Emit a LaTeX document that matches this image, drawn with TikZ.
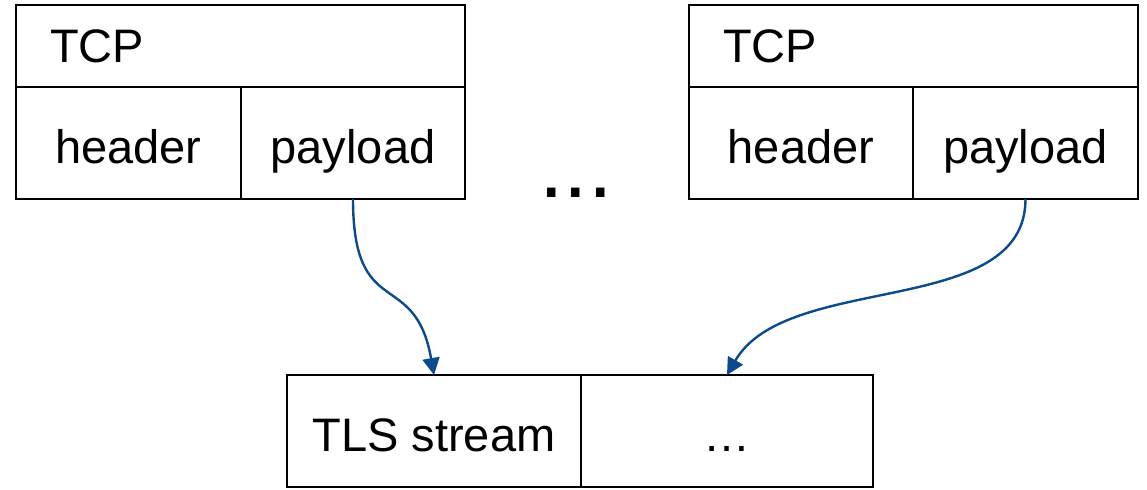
\documentclass[tikz,border=0pt]{standalone}
\usepackage{fontspec}
\setmainfont{Liberation Sans}
\usetikzlibrary{positioning, arrows.meta}
\definecolor{flowblue}{RGB}{10,74,142}
\tikzstyle{cell} = [rectangle, minimum height=56pt, inner sep=0pt, outer sep=0pt, text height=24pt, text depth=4pt, text centered, draw=black, line width=1pt, font=\fontsize{23.5}{28}\selectfont]
\tikzstyle{band} = [rectangle, minimum height=41pt, inner xsep=17pt, inner ysep=0pt, outer sep=0pt, text width=190.5pt, text height=20pt, text depth=4pt, align=left, draw=black, line width=1pt, font=\fontsize{23.5}{28}\selectfont]
\tikzstyle{arrow} = [-{Triangle[width=8.5pt,length=8.5pt]}, line width=1.2pt, draw=flowblue]

\begin{document}
\begin{tikzpicture}
	\useasboundingbox (0,0) rectangle (573.5pt,-244.5pt);
	\node (head1) [cell, minimum width=112.5pt] at (64.25pt,-71.5pt) {header};
	\node (load1) [cell, minimum width=112pt, right=0pt of head1] {payload};
	\node (tcp1) [band, above right=0pt and 0pt of head1.north west] {TCP};
	
	\node (head2) [cell, minimum width=112pt] at (400.5pt,-71.5pt) {header};
	\node (load2) [cell, minimum width=112.5pt, right=0pt of head2] {payload};
	\node (tcp2) [band, above right=0pt and 0pt of head2.north west] {TCP};
	
	\node (gap) [inner sep=0pt, anchor=base, font=\fontsize{44}{48}\selectfont] at (288pt,-98.5pt) {...};
	
	\node (tls) [cell, minimum width=147pt] at (217pt,-215.5pt) {TLS stream};
	\node (rest) [cell, minimum width=146pt, right=0pt of tls] {…};
	
	\draw [arrow](load1.south) .. controls +(0,-62pt) and +(100:55pt) .. (tls.north);
	\draw [arrow](load2.south) .. controls +(0,-60pt) and +(60:60pt) .. (rest.north);
\end{tikzpicture}
\end{document}
